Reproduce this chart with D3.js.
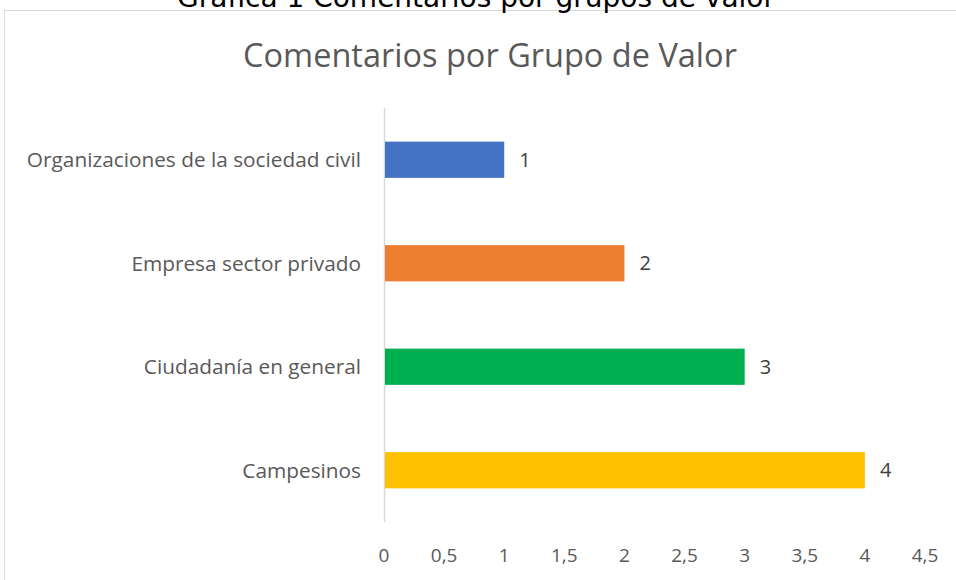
<!DOCTYPE html>
<html><head><meta charset="utf-8">
<script src="https://cdn.jsdelivr.net/npm/d3@7"></script>
<style>body{margin:0;background:#fff}svg{display:block}</style>
</head><body>
<svg id="c" width="956" height="580"></svg>
<script>
const categories = ["Organizaciones de la sociedad civil","Empresa sector privado","Ciudadanía en general","Campesinos"];
const values = [1,2,3,4];
const colors = ["#4472C4","#ED7D31","#00B050","#FFC000"];
const ticks = [0,0.5,1,1.5,2,2.5,3,3.5,4,4.5];
const title = "Comentarios por Grupo de Valor";
const caption = "Gráfica 1 Comentarios por grupos de valor";

const svg = d3.select("#c");
const font = "'Open Sans', Lato, sans-serif";
svg.append("rect").attr("x",4.5).attr("y",10.5).attr("width",1000).attr("height",1000)
  .attr("fill","#fff").attr("stroke","#D9D9D9");
svg.append("text").attr("x",476).attr("y",7).attr("text-anchor","middle")
  .attr("font-family","'DejaVu Sans', Verdana, sans-serif").attr("font-size",28).attr("fill","#000").text(caption);
svg.append("text").attr("x",490).attr("y",67).attr("text-anchor","middle")
  .attr("font-family",font).attr("font-size",32.5).attr("fill","#595959").text(title);

const x = d3.scaleLinear().domain([0,4.5]).range([384,925]);
const y = d3.scaleBand().domain(categories).range([108,522]).paddingInner(0.65).paddingOuter(0.325);

svg.append("line").attr("x1",384.5).attr("x2",384.5).attr("y1",108).attr("y2",522).attr("stroke","#D9D9D9").attr("stroke-width",1.5);

svg.selectAll(".bar").data(categories).join("rect")
  .attr("x",x(0)+1).attr("y",d=>y(d)).attr("height",y.bandwidth())
  .attr("width",(d,i)=>x(values[i])-x(0)-1).attr("fill",(d,i)=>colors[i]);

svg.selectAll(".dl").data(categories).join("text")
  .attr("x",(d,i)=>x(values[i])+15).attr("y",d=>y(d)+y.bandwidth()/2).attr("dy","0.36em")
  .attr("font-family",font).attr("font-size",20).attr("fill","#404040").text((d,i)=>values[i]);

svg.selectAll(".cl").data(categories).join("text")
  .attr("x",361).attr("y",d=>y(d)+y.bandwidth()/2).attr("dy","0.36em").attr("text-anchor","end")
  .attr("font-family",font).attr("font-size",20.8).attr("fill","#595959").text(d=>d);

svg.selectAll(".tk").data(ticks).join("text")
  .attr("x",d=>x(d)).attr("y",555).attr("dy","0.36em").attr("text-anchor","middle")
  .attr("font-family",font).attr("font-size",19).attr("fill","#595959").text(d=>String(d).replace(".",","));
</script>
</body></html>
